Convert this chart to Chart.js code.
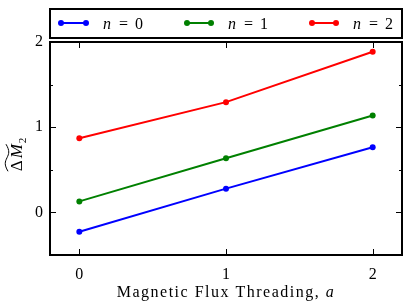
<!DOCTYPE html>
<html>
<head>
<meta charset="utf-8">
<script src="https://cdn.jsdelivr.net/npm/chart.js@4.4.1/dist/chart.umd.min.js"></script>
<style>
  html, body { margin: 0; padding: 0; background: #fff; }
  #wrap { width: 415px; height: 305px; }
</style>
</head>
<body>
<div id="wrap"><canvas id="fluxChart"></canvas></div>
<script>
// values
const fluxValues = [0, 1, 2];
const n0Values = [-0.227, 0.279, 0.765];
const n1Values = [0.129, 0.635, 1.138];
const n2Values = [0.871, 1.294, 1.886];
const seriesNames = ['0', '1', '2'];
const seriesColors = ['#0000ff', '#008000', '#ff0000'];
const xTicks = [0, 1, 2];
const yTicks = [0, 0.5, 1, 1.5, 2];

const serif = '"Liberation Serif", "DejaVu Serif", serif';

function makeSet(vals, i) {
    return {
        label: 'n = ' + seriesNames[i],
        data: fluxValues.map((x, k) => ({ x: x, y: vals[k] })),
        borderColor: seriesColors[i],
        backgroundColor: seriesColors[i],
        borderWidth: 2,
        pointRadius: 3,
        pointHoverRadius: 3,
        pointBorderWidth: 0
    };
}

// frame, inward ticks, axis titles and the boxed legend
const decorPlugin = {
    id: 'decor',
    afterDatasetsDraw(chart) {
        const ctx = chart.ctx;
        const a = chart.chartArea;
        const xs = chart.scales.x, ys = chart.scales.y;
        ctx.save();
        ctx.strokeStyle = '#000';
        ctx.lineWidth = 1;
        xTicks.forEach(v => {
            const px = Math.round(xs.getPixelForValue(v)) + 0.5;
            ctx.beginPath();
            ctx.moveTo(px, a.top); ctx.lineTo(px, a.top + 6);
            ctx.moveTo(px, a.bottom); ctx.lineTo(px, a.bottom - 6);
            ctx.stroke();
        });
        yTicks.forEach(v => {
            const py = Math.round(ys.getPixelForValue(v)) + 0.5;
            const len = Number.isInteger(v) ? 6 : 3;
            ctx.beginPath();
            ctx.moveTo(a.left, py); ctx.lineTo(a.left + len, py);
            ctx.moveTo(a.right, py); ctx.lineTo(a.right - len, py);
            ctx.stroke();
        });
        ctx.lineWidth = 2;
        ctx.strokeRect(a.left, a.top, a.right - a.left, a.bottom - a.top);

        // x title, spaced out a little to match the wider TeX face
        ctx.fillStyle = '#000';
        ctx.textBaseline = 'alphabetic';
        ctx.textAlign = 'left';
        ctx.letterSpacing = '1.5px';
        const t1 = 'Magnetic Flux Threading, ';
        ctx.font = '16px ' + serif;
        const w1 = ctx.measureText(t1).width;
        ctx.font = 'italic 16px ' + serif;
        const w2 = ctx.measureText('a').width;
        const cx = (a.left + a.right) / 2;
        const sx = cx - (w1 + w2) / 2;
        ctx.font = '16px ' + serif;
        ctx.fillText(t1, sx, 297);
        ctx.font = 'italic 16px ' + serif;
        ctx.fillText('a', sx + w1, 297);
        ctx.letterSpacing = '0px';

        // y title, rotated
        ctx.save();
        ctx.translate(22, 154);
        ctx.rotate(-Math.PI / 2);
        ctx.font = '17px ' + serif;
        const wd = ctx.measureText('Δ').width;
        ctx.font = 'italic 17px ' + serif;
        const wm = ctx.measureText('M').width;
        ctx.font = '11px ' + serif;
        const ws = ctx.measureText('2').width;
        const gap = 2;
        const ox = -(wd + gap + wm + ws + 2) / 2;
        ctx.font = '17px ' + serif;
        ctx.fillText('Δ', ox, 0);
        ctx.font = 'italic 17px ' + serif;
        ctx.fillText('M', ox + wd + gap, 0);
        ctx.font = '11px ' + serif;
        ctx.fillText('2', ox + wd + gap + wm + 1, 4);
        // wide tilde over ΔM
        const tx0 = ox, tx1 = ox + wd + gap + wm, ty = -15;
        const tw = tx1 - tx0;
        ctx.lineWidth = 1;
        ctx.beginPath();
        ctx.moveTo(tx0, ty + 1);
        ctx.bezierCurveTo(tx0 + tw * 0.25, ty - 3, tx0 + tw * 0.35, ty - 2, tx0 + tw * 0.5, ty);
        ctx.bezierCurveTo(tx0 + tw * 0.65, ty + 2, tx0 + tw * 0.75, ty + 3, tx1, ty - 1);
        ctx.stroke();
        ctx.restore();

        // legend box
        ctx.strokeStyle = '#000';
        ctx.lineWidth = 2;
        ctx.strokeRect(a.left, 9, a.right - a.left, 29);
        const entries = [
            { x0: 61, x1: 86, tx: 103 },
            { x0: 187, x1: 211, tx: 228 },
            { x0: 312, x1: 336, tx: 353 }
        ];
        entries.forEach((e, i) => {
            const y = 23;
            ctx.strokeStyle = seriesColors[i];
            ctx.fillStyle = seriesColors[i];
            ctx.lineWidth = 2;
            ctx.beginPath();
            ctx.moveTo(e.x0, y); ctx.lineTo(e.x1, y);
            ctx.stroke();
            [e.x0, e.x1].forEach(px => {
                ctx.beginPath();
                ctx.arc(px, y, 3, 0, Math.PI * 2);
                ctx.fill();
            });
            ctx.fillStyle = '#000';
            ctx.font = 'italic 16px ' + serif;
            ctx.fillText('n', e.tx, 28.5);
            ctx.font = '16px ' + serif;
            ctx.fillText('=', e.tx + 16, 28.5);
            ctx.fillText(seriesNames[i], e.tx + 32, 28.5);
        });
        ctx.restore();
    }
};

new Chart(document.getElementById('fluxChart'), {
    type: 'line',
    data: {
        datasets: [makeSet(n0Values, 0), makeSet(n1Values, 1), makeSet(n2Values, 2)]
    },
    options: {
        responsive: true,
        maintainAspectRatio: false,
        animation: false,
        layout: { padding: { top: 42, right: 13, left: 0, bottom: 0 } },
        plugins: {
            legend: { display: false },
            tooltip: { enabled: false }
        },
        scales: {
            x: {
                type: 'linear',
                min: -0.2,
                max: 2.2,
                afterBuildTicks: s => { s.ticks = xTicks.map(v => ({ value: v })); },
                afterFit: s => { s.height = 50; },
                grid: { display: false, drawTicks: false },
                border: { display: false },
                ticks: {
                    color: '#000',
                    padding: 10,
                    maxRotation: 0,
                    font: { family: serif, size: 16 }
                }
            },
            y: {
                type: 'linear',
                min: -0.5,
                max: 2,
                afterBuildTicks: s => { s.ticks = yTicks.map(v => ({ value: v })); },
                afterFit: s => { s.width = 50; },
                grid: { display: false, drawTicks: false },
                border: { display: false },
                ticks: {
                    color: '#000',
                    padding: 7,
                    font: { family: serif, size: 16 },
                    callback: v => Number.isInteger(v) ? String(v) : ''
                }
            }
        }
    },
    plugins: [decorPlugin]
});
</script>
</body>
</html>
